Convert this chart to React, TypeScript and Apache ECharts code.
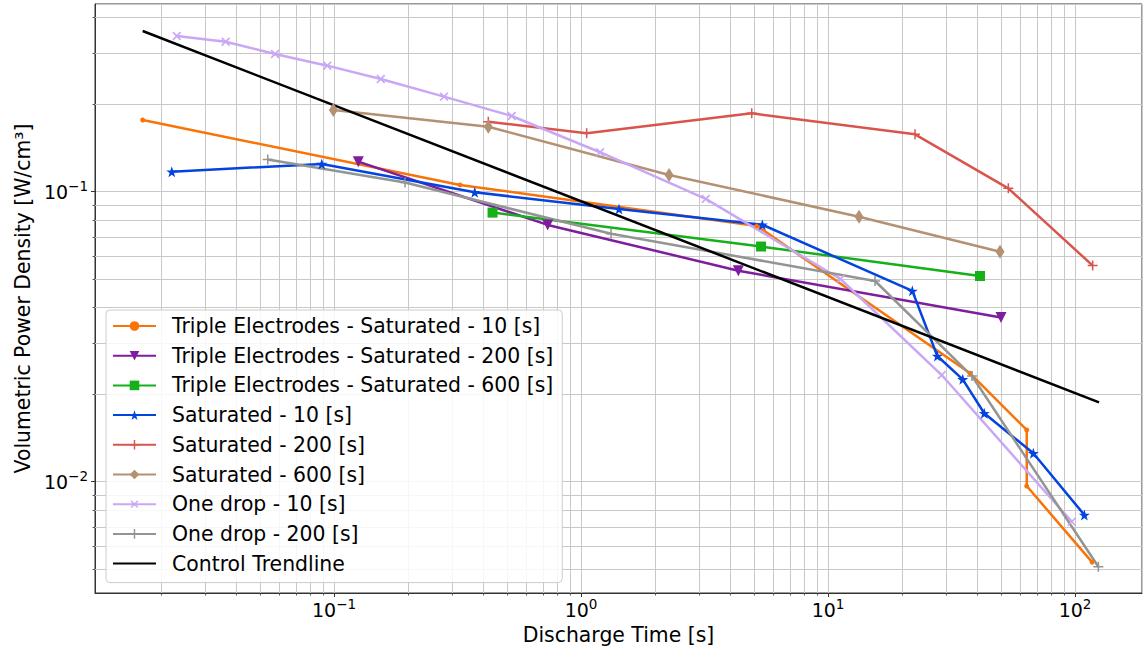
import React, { useEffect, useRef } from "react";
import * as echarts from "echarts";

// Axis ranges (log axes)
const X_RANGE = [0.01077, 186.7];
const Y_RANGE = [0.004132, 0.4438];

// Minor grid structure of the log axes
const MINOR_MULT = [2, 3, 4, 5, 6, 7, 8, 9];
const X_DECADES = [0.01, 0.1, 1, 10, 100];
const Y_DECADES = [0.001, 0.01, 0.1];

// Series data: discharge time [s] and volumetric power density [W/cm3]
const teSat10X = [0.0168, 0.3236, 5.16, 37.6, 63.75, 63.75, 117.2];
const teSat10Y = [0.1767, 0.1055, 0.0762, 0.02365, 0.01508, 0.00966, 0.00528];

const teSat200X = [0.1254, 0.733, 4.334, 50.15];
const teSat200Y = [0.1269, 0.0768, 0.0534, 0.0368];

const teSat600X = [0.4383, 5.355, 41.24];
const teSat600Y = [0.0847, 0.0647, 0.0512];

const sat10X = [0.02203, 0.0892, 0.3712, 1.425, 5.42, 21.94, 27.7, 35.1, 42.9, 67.8, 109.1];
const sat10Y = [0.1172, 0.1246, 0.0995, 0.0872, 0.0769, 0.0455, 0.02713, 0.02254, 0.01722, 0.01253, 0.00768];

const sat200X = [0.4213, 1.054, 4.91, 22.5, 53.7, 117.9];
const sat200Y = [0.1743, 0.159, 0.1863, 0.1577, 0.1027, 0.0556];

const sat600X = [0.0994, 0.4213, 2.272, 13.35, 49.7];
const sat600Y = [0.1913, 0.1675, 0.1142, 0.082, 0.0621];

const drop10X = [0.02307, 0.0364, 0.0577, 0.0939, 0.1546, 0.2788, 0.524, 1.194, 3.198, 11.23, 28.86, 96.96];
const drop10Y = [0.3442, 0.329, 0.2984, 0.272, 0.2446, 0.2127, 0.1824, 0.1368, 0.0944, 0.05, 0.02332, 0.00728];

const drop200X = [0.0539, 0.1938, 1.323, 15.5, 38.28, 124.3];
const drop200Y = [0.1291, 0.1076, 0.0716, 0.0492, 0.02314, 0.00509];

const trendX = [0.0168, 125.1];
const trendY = [0.3581, 0.01878];

const SERIES_NAMES = [
  "Triple Electrodes - Saturated - 10 [s]",
  "Triple Electrodes - Saturated - 200 [s]",
  "Triple Electrodes - Saturated - 600 [s]",
  "Saturated - 10 [s]",
  "Saturated - 200 [s]",
  "Saturated - 600 [s]",
  "One drop - 10 [s]",
  "One drop - 200 [s]",
  "Control Trendline",
];

const GRID_COLOR = "#c8c8c8";
const FONT = "DejaVu Sans";
const FS = 20.4;

const STAR =
  "path://M50,2 L61.8,38.2 L97.6,38.2 L68.8,59.5 L79.4,95 L50,73.8 L20.6,95 L31.2,59.5 L2.4,38.2 L38.2,38.2 Z";
const PLUS =
  "path://M4.25,0 H5.75 V4.25 H10 V5.75 H5.75 V10 H4.25 V5.75 H0 V4.25 H4.25 Z";

function powLabel(v: number): string {
  const e = Math.round(Math.log10(v));
  const s = e < 0 ? "\u2212" + String(-e) : String(e);
  return "{b|10}{s|" + s + "}";
}

const RICH = {
  b: { fontSize: 19, lineHeight: 26, verticalAlign: "middle", fontFamily: FONT, color: "#000" },
  s: { fontSize: 13.5, lineHeight: 14, verticalAlign: "top", fontFamily: FONT, color: "#000" },
};

function lineSeries(
  name: string,
  xs: number[],
  ys: number[],
  color: string,
  symbol: string,
  size: number | number[],
  rotate = 0
) {
  return {
    name,
    type: "line",
    data: xs.map((x, i) => [x, ys[i]]),
    symbol,
    symbolSize: size,
    symbolRotate: rotate,
    showSymbol: symbol !== "none",
    showAllSymbol: true,
    lineStyle: { color, width: 2.5 },
    itemStyle: { color },
    z: 3,
    silent: true,
    emphasis: { disabled: true },
  };
}

export default function App() {
  const ref = useRef<HTMLDivElement>(null);

  useEffect(() => {
    if (!ref.current) return;
    const chart = echarts.init(ref.current, undefined, { renderer: "svg" });

    const xMinor = X_DECADES.flatMap((d) => MINOR_MULT.map((m) => m * d)).filter(
      (v) => v > X_RANGE[0] && v < X_RANGE[1]
    );
    const yMinor = Y_DECADES.flatMap((d) => MINOR_MULT.map((m) => m * d)).filter(
      (v) => v > Y_RANGE[0] && v < Y_RANGE[1]
    );

    const option: any = {
      animation: false,
      textStyle: { fontFamily: FONT },
      grid: {
        left: 95,
        right: 1,
        top: 4,
        bottom: 58,
        show: true,
        borderColor: "#333",
        borderWidth: 1,
        containLabel: false,
      },
      xAxis: {
        type: "log",
        logBase: 10,
        min: X_RANGE[0],
        max: X_RANGE[1],
        name: "Discharge Time [s]",
        nameLocation: "middle",
        nameGap: 32,
        nameTextStyle: { fontSize: FS, color: "#000", fontFamily: FONT },
        axisLine: { show: true, lineStyle: { color: "#333", width: 1 } },
        axisTick: { show: true, length: 4, lineStyle: { color: "#333", width: 1 } },
        axisLabel: {
          color: "#000",
          margin: 4,
          fontFamily: FONT,
          showMinLabel: false,
          showMaxLabel: false,
          formatter: (v: number) => powLabel(v),
          rich: RICH,
        },
        splitLine: { show: true, lineStyle: { color: GRID_COLOR, width: 1 } },
        minorTick: { show: false },
        minorSplitLine: { show: false },
      },
      yAxis: {
        type: "log",
        logBase: 10,
        min: Y_RANGE[0],
        max: Y_RANGE[1],
        name: "Volumetric Power Density [W/cm\u00B3]",
        nameLocation: "middle",
        nameGap: 61,
        nameTextStyle: { fontSize: FS, color: "#000", fontFamily: FONT },
        axisLine: { show: true, lineStyle: { color: "#333", width: 1 } },
        axisTick: { show: true, length: 4, lineStyle: { color: "#333", width: 1 } },
        axisLabel: {
          color: "#000",
          margin: 7,
          fontFamily: FONT,
          showMinLabel: false,
          showMaxLabel: false,
          formatter: (v: number) => powLabel(v),
          rich: RICH,
        },
        splitLine: { show: true, lineStyle: { color: GRID_COLOR, width: 1 } },
      },
      legend: {
        orient: "vertical",
        left: 106,
        top: 310,
        itemWidth: 43,
        itemHeight: 12,
        itemGap: 9.7,
        padding: [6, 9, 9, 6],
        backgroundColor: "rgba(255,255,255,0.85)",
        borderColor: "#cccccc",
        borderWidth: 1,
        borderRadius: 4,
        selectedMode: false,
        textStyle: {
          fontSize: FS,
          lineHeight: 20,
          color: "#000",
          fontFamily: FONT,
          padding: [0, 0, 0, 11],
        },
        data: SERIES_NAMES.map((n, i) =>
          i === 8 ? { name: n, itemStyle: { color: "rgba(0,0,0,0)", opacity: 0 } } : { name: n }
        ),
      },
      series: [
        {
          type: "custom",
          name: "xminor",
          silent: true,
          clip: false,
          z: 1,
          data: xMinor.map((v) => [v, Y_RANGE[0]]),
          renderItem: (params: any, api: any) => {
            const cs = params.coordSys;
            const p = api.coord([api.value(0), Y_RANGE[0]]);
            const x = Math.round(p[0]) + 0.5;
            const b = cs.y + cs.height;
            return {
              type: "group",
              children: [
                {
                  type: "line",
                  shape: { x1: x, y1: cs.y, x2: x, y2: b },
                  style: { stroke: GRID_COLOR, lineWidth: 1 },
                },
                {
                  type: "line",
                  shape: { x1: x, y1: b, x2: x, y2: b + 2.5 },
                  style: { stroke: "#333", lineWidth: 0.8 },
                },
              ],
            };
          },
        },
        {
          type: "custom",
          name: "yminor",
          silent: true,
          clip: false,
          z: 1,
          data: yMinor.map((v) => [X_RANGE[0], v]),
          renderItem: (params: any, api: any) => {
            const cs = params.coordSys;
            const p = api.coord([X_RANGE[0], api.value(1)]);
            const y = Math.round(p[1]) + 0.5;
            return {
              type: "group",
              children: [
                {
                  type: "line",
                  shape: { x1: cs.x, y1: y, x2: cs.x + cs.width, y2: y },
                  style: { stroke: GRID_COLOR, lineWidth: 1 },
                },
                {
                  type: "line",
                  shape: { x1: cs.x - 2.5, y1: y, x2: cs.x, y2: y },
                  style: { stroke: "#333", lineWidth: 0.8 },
                },
              ],
            };
          },
        },
        lineSeries(SERIES_NAMES[0], teSat10X, teSat10Y, "#f97306", "circle", 5),
        lineSeries(SERIES_NAMES[1], teSat200X, teSat200Y, "#7e1e9c", "triangle", 11, 180),
        lineSeries(SERIES_NAMES[2], teSat600X, teSat600Y, "#15b01a", "rect", 10),
        lineSeries(SERIES_NAMES[3], sat10X, sat10Y, "#0343df", STAR, 11),
        lineSeries(SERIES_NAMES[4], sat200X, sat200Y, "#d9544d", PLUS, 10),
        lineSeries(SERIES_NAMES[5], sat600X, sat600Y, "#b39172", "diamond", [9, 14]),
        lineSeries(SERIES_NAMES[6], drop10X, drop10Y, "#c9a7f5", PLUS, 11, 45),
        lineSeries(SERIES_NAMES[7], drop200X, drop200Y, "#929591", PLUS, 10),
        lineSeries(SERIES_NAMES[8], trendX, trendY, "#000000", "none", 0),
      ],
    };

    chart.setOption(option);
    return () => chart.dispose();
  }, []);

  return (
    <div
      ref={ref}
      style={{ position: "fixed", left: 0, top: 0, width: 1143, height: 651, background: "#fff" }}
    />
  );
}
